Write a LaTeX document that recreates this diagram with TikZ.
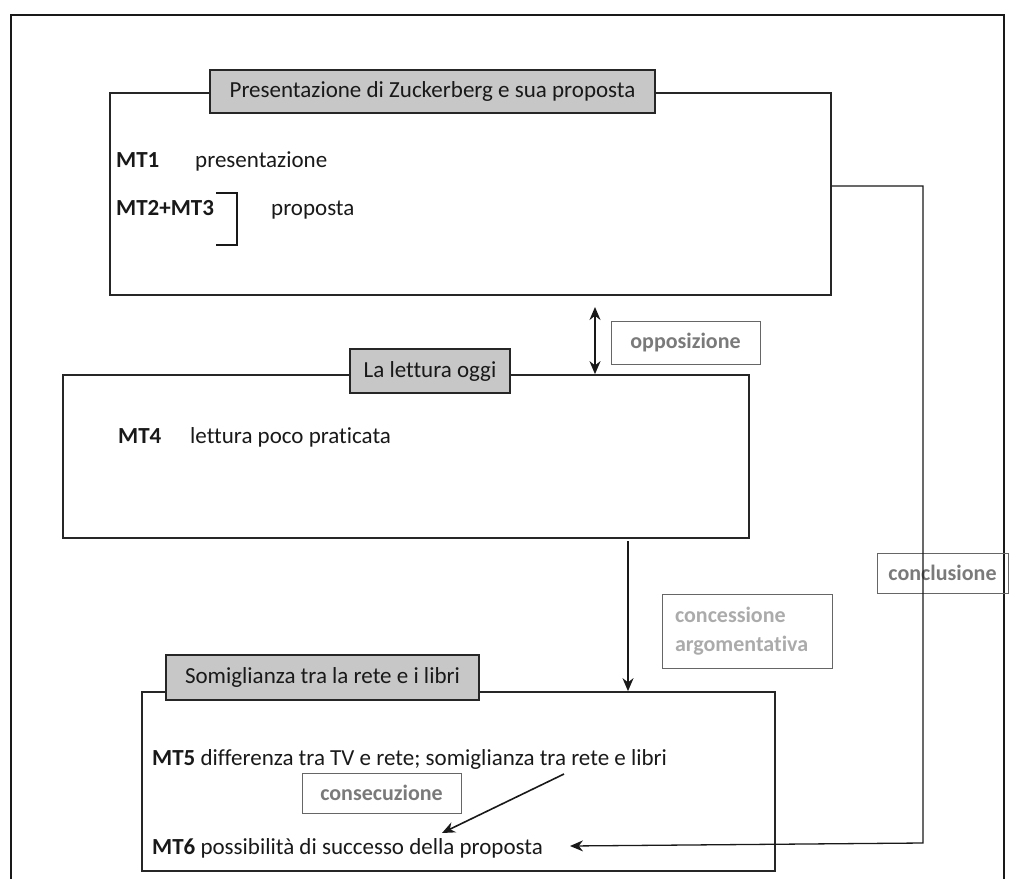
\documentclass[tikz,border=0pt]{standalone}
\usepackage{fontspec}
\setmainfont{Carlito}[Ligatures=NoCommon]
\usetikzlibrary{arrows.meta,calc}
\begin{document}
\begin{tikzpicture}[x=1pt,y=-1pt,
  every node/.style={font=\fontsize{23}{29}\selectfont, text=black!90},
  frame/.style={draw=black!85, line width=1.7pt, inner sep=0pt},
  tab/.style={frame, fill=black!22},
  lbl/.style={draw=black!60, line width=1pt, text=black!52, inner sep=0pt, font=\fontsize{22}{29}\selectfont\bfseries},
  txt/.style={anchor=base west, inner sep=0pt},
  conn/.style={draw=black!90, line width=1.6pt},
  tip/.tip={Stealth[length=13pt,width=11pt]},
  arr/.style={conn, -tip},
]
\useasboundingbox (0,0) rectangle (1013,879);
% outer frame
\coordinate (fTL) at (11,15);
\coordinate (fTR) at (1004,15);
\coordinate (fBL) at (11,890);
\coordinate (fBR) at (1004,890);
\draw[conn, line width=1.7pt] (fBL) -- (fTL) -- (fTR) -- (fBR);

% box 1
\node[frame, minimum width=721pt, minimum height=202pt] (box1) at (470.5,194) {};
\node[tab, minimum width=445pt, minimum height=43pt] (tab1) at (432.5,91.5) {Presentazione di Zuckerberg e sua proposta};
\node[txt] (mt1) at (116,167) {\textbf{MT1}};
\node[txt] (pres) at (195,167) {presentazione};
\node[txt] (mt23) at (116,215) {\textbf{MT2+MT3}};
\node[txt] (prop) at (271,215) {proposta};
\draw[conn, line width=1.4pt] (216,193) -- (237,193) -- (237,245) -- (216,245);

% box 2
\node[frame, minimum width=686pt, minimum height=163pt] (box2) at (406,456.5) {};
\node[tab, minimum width=160pt, minimum height=44pt] (tab2) at (430,371) {La lettura oggi};
\node[txt] (mt4) at (118,443) {\textbf{MT4}};
\node[txt] (lett) at (190,443) {lettura poco praticata};

% box 3
\node[frame, minimum width=633pt, minimum height=179pt] (box3) at (458.5,781.5) {};
\node[tab, minimum width=313pt, minimum height=45pt] (tab3) at (322.5,677.5) {Somiglianza tra la rete e i libri};
\node[txt] (mt5) at (152,765) {\textbf{MT5} differenza tra TV e rete; somiglianza tra rete e libri};
\node[txt] (mt6) at (152,854) {\textbf{MT6} possibilità di successo della proposta};

% labels
\node[lbl, minimum width=149pt, minimum height=43pt] (opp) at (685.5,342.5) {opposizione};
\node[lbl, minimum width=159pt, minimum height=40pt] (cons) at (381.5,793) {consecuzione};
\node[lbl, text=black!33, minimum width=170pt, minimum height=74pt, align=left, text width=144pt, inner xsep=13pt] (conc) at (747,631) {concessione\\argomentativa};
\node[lbl, minimum width=131pt, minimum height=40pt] (concl) at (942.5,573) {conclusione};

% connectors
\coordinate (oppT) at (595,307);
\draw[conn, tip-tip] (oppT) -- (oppT |- box2.north);
\coordinate (dn) at (628,541);
\draw[arr] (dn) -- (dn |- box3.north);
\coordinate (c5) at (564,774);
\coordinate (c6) at (442,833);
\draw[arr] (c5) -- (c6);
\coordinate (k1) at (923,186);
\coordinate (k2) at (923,843);
\coordinate (k3) at (570,846);
\draw[arr, line width=1.3pt] (k1 -| box1.east) -- (k1) -- (k2) -- (k3);
\end{tikzpicture}
\end{document}
